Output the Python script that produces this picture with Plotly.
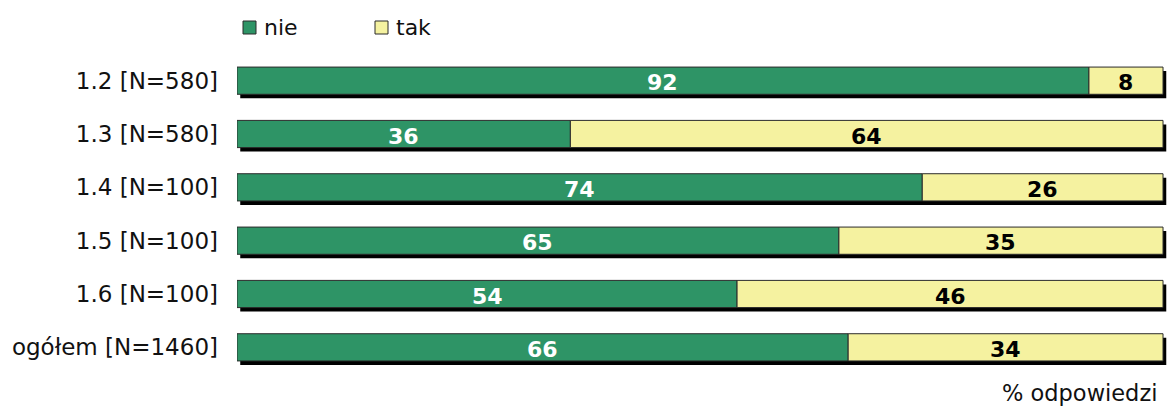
import plotly.graph_objects as go

# Survey answers, percent of responses per item
categories = ["1.2 [N=580]", "1.3 [N=580]", "1.4 [N=100]", "1.5 [N=100]", "1.6 [N=100]", "ogółem [N=1460]"]
nie = [92, 36, 74, 65, 54, 66]
tak = [8, 64, 26, 35, 46, 34]
series_names = ["nie", "tak"]

GREEN = "#2E9466"
YELLOW = "#F5F2A0"
EDGE = "#2b2b2b"
FONT = "DejaVu Sans, Verdana, sans-serif"

BAR_W = 0.51
SHADOW_DX = 0.35   # horizontal shadow shift, in % units
SHADOW_DY = 0.075  # vertical shadow shift, in category units

# plot-area geometry in pixels (used to place the hand-drawn legend)
W, H = 1167, 408
ML, MR, MT, MB = 237, 0, 54, 34
PW, PH = W - ML - MR, H - MT - MB


def px_x(px):
    return (px - ML) / PW


def px_y(py):
    return (MT + PH - py) / PH


totals = [a + b for a, b in zip(nie, tak)]

fig = go.Figure()

# drop shadow behind each full bar
fig.add_trace(go.Bar(
    y=categories, x=totals, base=[SHADOW_DX] * len(totals), orientation="h",
    width=BAR_W, offset=-BAR_W / 2 + SHADOW_DY,
    marker=dict(color="black", line=dict(width=0)),
    showlegend=False, hoverinfo="skip",
))

fig.add_trace(go.Bar(
    name=series_names[0], y=categories, x=nie, base=[0] * len(nie), orientation="h",
    width=BAR_W, offset=-BAR_W / 2,
    marker=dict(color=GREEN, line=dict(color=EDGE, width=1)),
    showlegend=False, hoverinfo="skip",
))

fig.add_trace(go.Bar(
    name=series_names[1], y=categories, x=tak, base=nie, orientation="h",
    width=BAR_W, offset=-BAR_W / 2,
    marker=dict(color=YELLOW, line=dict(color=EDGE, width=1)),
    showlegend=False, hoverinfo="skip",
))

annotations = []

# value labels centred in each segment
for cat, a, b in zip(categories, nie, tak):
    annotations.append(dict(
        text=str(a), x=a / 2, y=cat, xref="x", yref="y", showarrow=False,
        xanchor="center", yanchor="middle", yshift=-2,
        font=dict(color="white", size=22, family=FONT, weight="bold"),
    ))
    annotations.append(dict(
        text=str(b), x=a + b / 2, y=cat, xref="x", yref="y", showarrow=False,
        xanchor="center", yanchor="middle", yshift=-2,
        font=dict(color="black", size=22, family=FONT, weight="bold"),
    ))

# legend: small bordered squares followed by the series names
shapes = []
for name, color, sq_left in zip(series_names, [GREEN, YELLOW], [243, 375]):
    shapes.append(dict(
        type="rect", xref="paper", yref="paper",
        x0=px_x(sq_left), x1=px_x(sq_left + 13),
        y0=px_y(34), y1=px_y(21),
        fillcolor=color, line=dict(color=EDGE, width=1),
    ))
    annotations.append(dict(
        text=name, xref="paper", yref="paper",
        x=px_x(sq_left + 19), y=px_y(27.5), xanchor="left", yanchor="middle",
        showarrow=False, font=dict(size=22),
    ))

annotations.append(dict(
    text="% odpowiedzi", xref="paper", yref="paper",
    x=px_x(1159), y=px_y(393), xanchor="right", yanchor="middle",
    showarrow=False, font=dict(size=22.5),
))

fig.update_layout(
    width=W, height=H,
    margin=dict(l=ML, r=MR, t=MT, b=MB),
    barmode="overlay",
    showlegend=False,
    plot_bgcolor="white", paper_bgcolor="white",
    font=dict(family=FONT, size=22, color="#111111"),
    xaxis=dict(range=[0, 100.43], showgrid=False, zeroline=False,
               showticklabels=False, showline=False, fixedrange=True),
    yaxis=dict(categoryorder="array", categoryarray=categories,
               autorange="reversed", showgrid=False, zeroline=False,
               showline=False, ticks="", ticklabelstandoff=18,
               tickfont=dict(size=23), fixedrange=True),
    shapes=shapes,
    annotations=annotations,
)

fig.write_html("out.html")
